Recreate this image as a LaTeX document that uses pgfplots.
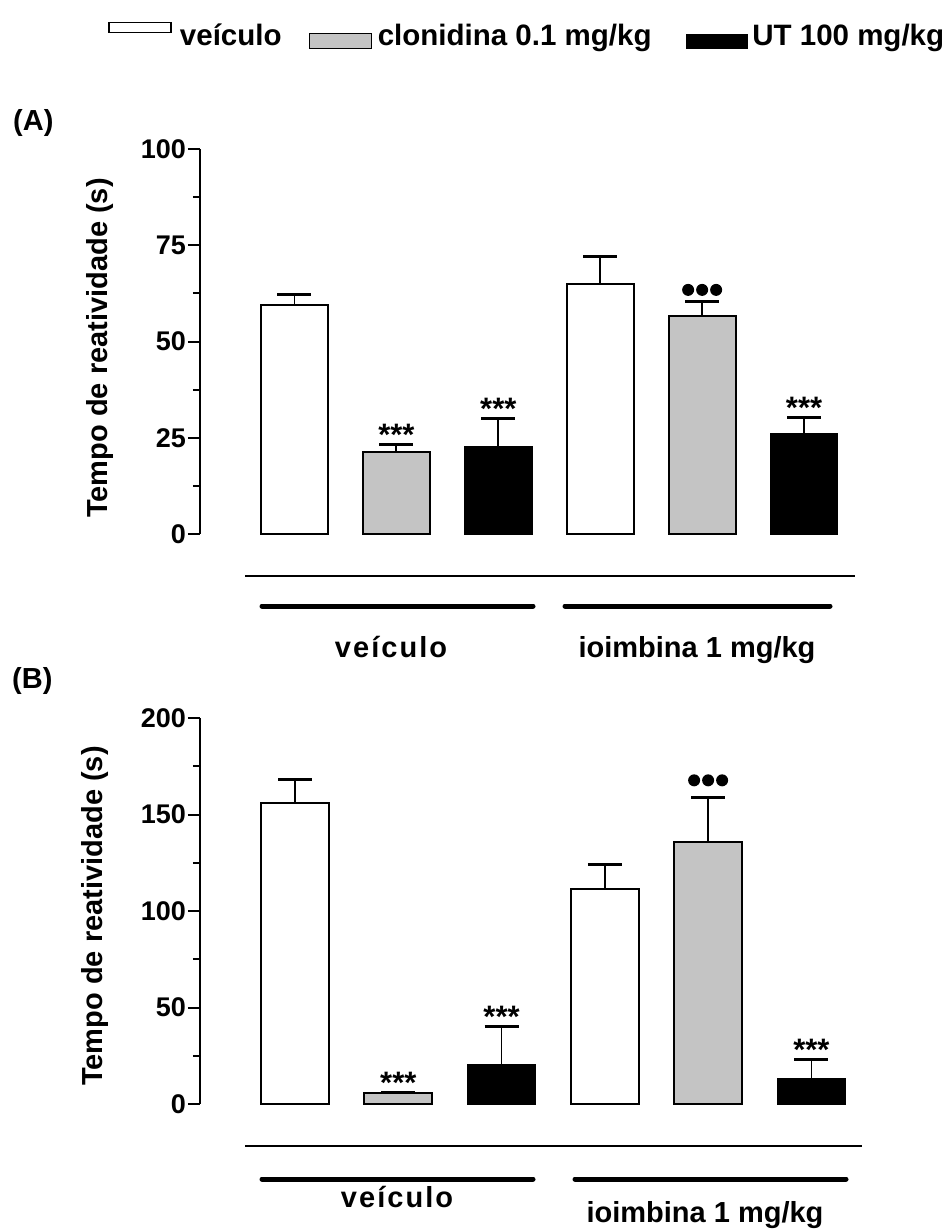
\documentclass[border=0pt]{standalone}
\usepackage{fontspec}
\setmainfont{Liberation Sans}
\usepackage{pgfplots}
\pgfplotsset{compat=1.18}
\definecolor{hatchgray}{RGB}{196,196,196}
\newcommand{\tickfont}{\bfseries\fontsize{27bp}{27bp}\selectfont}
\newcommand{\labfont}{\bfseries\fontsize{29bp}{29bp}\selectfont}
\newcommand{\legfont}{\bfseries\fontsize{29.5bp}{29.5bp}\selectfont}
\newcommand{\threedots}{\tikz{\fill (0,0) circle (6bp); \fill (14bp,0) circle (6bp); \fill (28bp,0) circle (6bp);}}
\tikzset{star/.style={anchor=base, inner sep=0pt, font=\bfseries\fontsize{31bp}{31bp}\selectfont, yshift=-1bp}}
\pgfplotsset{
  panel/.style={
    scale only axis, clip=false,
    axis x line=none, axis y line*=left,
    ymin=0,
    tick align=outside,
    major tick length=12bp, minor tick length=7bp,
    minor y tick num=1,
    every tick/.style={black, line width=2bp},
    y axis line style={line width=2bp},
    yticklabel style={font=\tickfont, inner xsep=2bp},
    /pgf/number format/assume math mode=true,
    ybar, bar shift=0pt,
    ylabel={Tempo de reatividade (s)},
  },
  eb/.style={/pgfplots/error bars/y dir=plus, /pgfplots/error bars/y explicit,
    /pgfplots/error bars/error bar style={line width=1.8bp, black},
    /pgfplots/error bars/error mark options={rotate=90, mark size=17bp, line width=3bp, black}},
}
\begin{document}
\begin{tikzpicture}
\useasboundingbox (0,0) rectangle (952bp,-1229bp);
% ---------------- Panel A ----------------
\begin{axis}[panel,
  at={(200bp,-534bp)}, anchor=south west,
  width=655bp, height=385bp,
  xmin=-0.927, xmax=5.5, ymax=100,
  ytick={0,25,50,75,100},
  bar width=0.657,
  ylabel style={font=\labfont, at={(axis description cs:-0.1527,0.483)}, anchor=center},
  legend style={at={(axis description cs:-0.1405,1.2948)}, anchor=west,
    legend columns=3, draw=none, fill=none, font=\legfont,
    inner sep=0pt, nodes={inner xsep=0pt, inner ysep=0pt},
    /tikz/column 1/.append style={column sep=8bp},
    /tikz/column 2/.append style={column sep=27bp},
    /tikz/column 3/.append style={column sep=6bp},
    /tikz/column 4/.append style={column sep=34bp},
    /tikz/column 5/.append style={column sep=4bp}},
]
\addplot[fill=white, draw=black, line width=1.8bp,
  legend image code/.code={\draw[black, line width=1.8bp, fill=white] (0bp,3bp) rectangle (62bp,13bp);}, eb]
  coordinates {(0,59.5) +- (0,2.7) (3,64.9) +- (0,7.1)};
\addlegendentry{veículo}
\addplot[fill=hatchgray, draw=black, line width=1.8bp,
  legend image code/.code={\draw[black, line width=1.2bp, fill=hatchgray] (0bp,-13bp) rectangle (62bp,2bp);}, eb]
  coordinates {(1,21.3) +- (0,1.9) (4,56.6) +- (0,3.9)};
\addlegendentry{clonidina 0.1 mg/kg}
\addplot[fill=black, draw=black, line width=1.8bp,
  legend image code/.code={\fill[black] (0bp,-13bp) rectangle (61bp,1bp);}, eb]
  coordinates {(2,22.7) +- (0,7.3) (5,26.1) +- (0,4.2)};
\addlegendentry{UT 100 mg/kg}
\node[star] at (axis cs:1,23.2) {***};
\node[star] at (axis cs:2,30.0) {***};
\node[star] at (axis cs:5,30.3) {***};
\node[anchor=south, inner sep=0pt, yshift=5bp] at (axis cs:4,60.5) {\threedots};
\end{axis}
% ---------------- Panel B ----------------
\begin{axis}[panel,
  at={(200bp,-1104bp)}, anchor=south west,
  width=662bp, height=386bp,
  xmin=-0.92, xmax=5.49, ymax=200,
  ytick={0,50,100,150,200},
  bar width=0.658,
  ylabel style={font=\labfont, at={(axis description cs:-0.1586,0.487)}, anchor=center},
]
\addplot[fill=white, draw=black, line width=1.8bp, eb]
  coordinates {(0,155.8) +- (0,12.1) (3,111.2) +- (0,13.0)};
\addplot[fill=hatchgray, draw=black, line width=1.8bp, eb]
  coordinates {(1,5.9) +- (0,0) (4,135.8) +- (0,23.0)};
\addplot[fill=black, draw=black, line width=1.8bp, eb]
  coordinates {(2,20.3) +- (0,19.7) (5,12.8) +- (0,10.1)};
\node[star] at (axis cs:1,5.9) {***};
\node[star] at (axis cs:2,40.0) {***};
\node[star] at (axis cs:5,22.9) {***};
\node[anchor=south, inner sep=0pt, yshift=11bp] at (axis cs:4,158.8) {\threedots};
\end{axis}
% ---------------- group separators and labels ----------------
\draw[line width=1.5bp] (245bp,-576bp) -- (855bp,-576bp);
\draw[line width=5bp, line cap=round] (262bp,-606bp) -- (533bp,-606bp);
\draw[line width=5bp, line cap=round] (565bp,-606bp) -- (830bp,-606bp);
\node[font=\labfont, anchor=base] at (391bp,-657bp) {\addfontfeature{LetterSpace=7}veículo};
\node[font=\labfont, anchor=base] at (697bp,-657bp) {ioimbina 1 mg/kg};
\draw[line width=1.5bp] (245bp,-1146bp) -- (862bp,-1146bp);
\draw[line width=5bp, line cap=round] (262bp,-1179bp) -- (533bp,-1179bp);
\draw[line width=5bp, line cap=round] (575bp,-1179bp) -- (846bp,-1179bp);
\node[font=\labfont, anchor=base] at (397bp,-1207bp) {\addfontfeature{LetterSpace=7}veículo};
\node[font=\labfont, anchor=base] at (705bp,-1222bp) {ioimbina 1 mg/kg};
% panel letters
\node[font=\labfont, anchor=base west, inner sep=0pt] at (13bp,-130bp) {(A)};
\node[font=\labfont, anchor=base west, inner sep=0pt] at (12bp,-688bp) {(B)};
\end{tikzpicture}
\end{document}
